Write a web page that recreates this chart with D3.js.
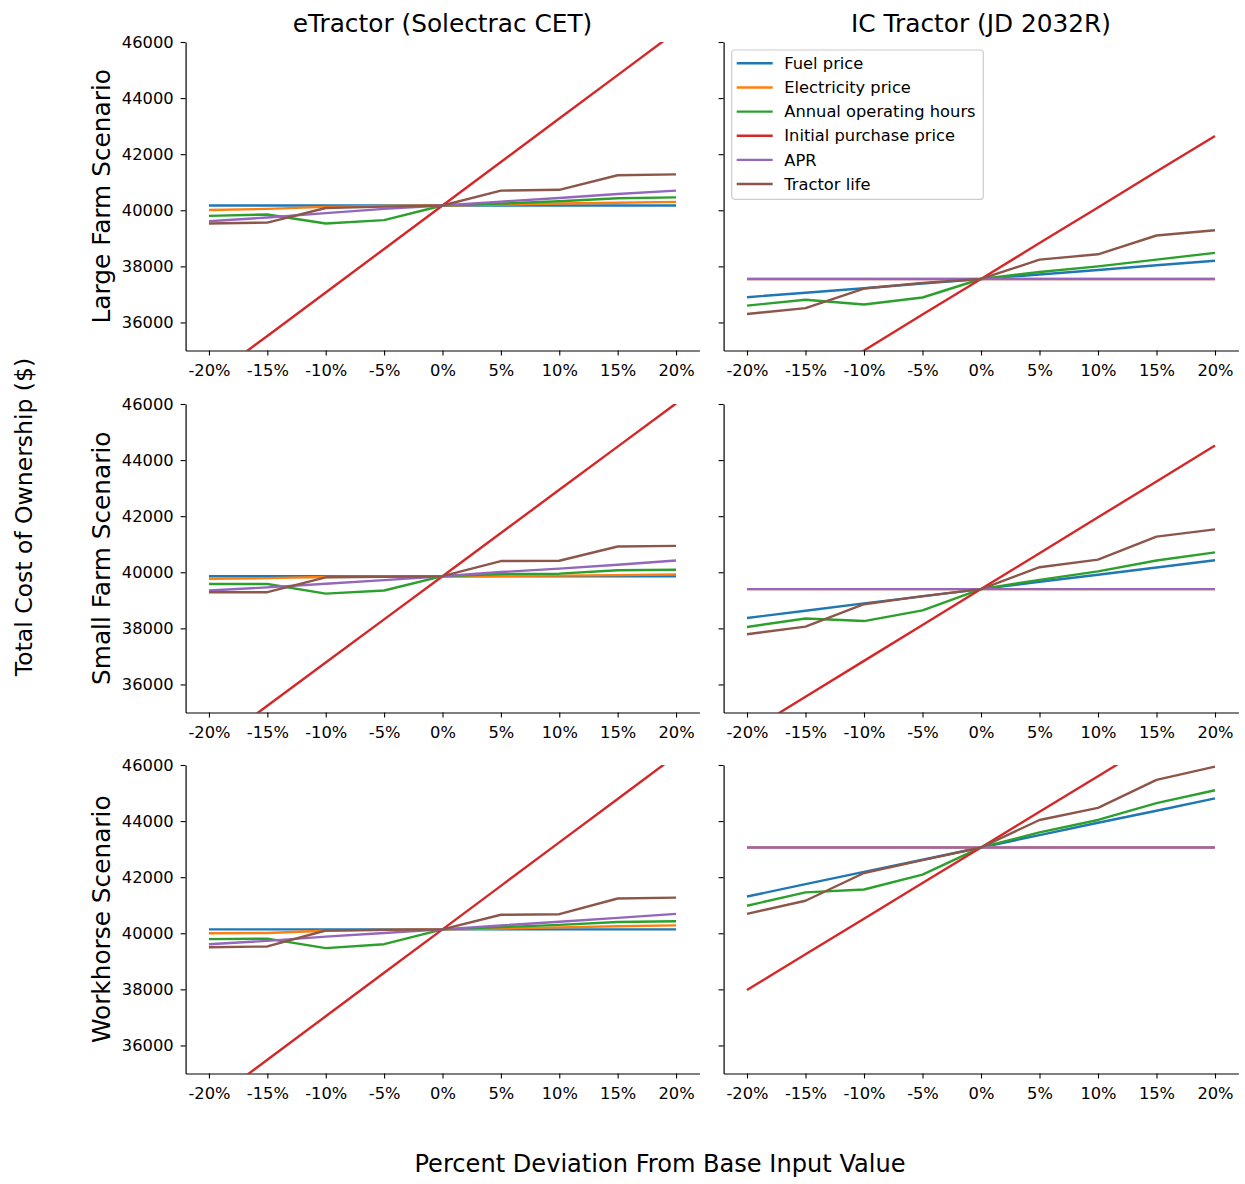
<!DOCTYPE html>
<html>
<head>
<meta charset="utf-8">
<script src="https://cdn.jsdelivr.net/npm/d3@7"></script>
<style>
  body { margin: 0; background: #fff; }
  svg { font-family: "DejaVu Sans", sans-serif; }
</style>
</head>
<body>
<svg id="chart" width="1245" height="1184"></svg>
<script>
const pcts = [-20, -15, -10, -5, 0, 5, 10, 15, 20]
const pct_labels = ['-20%', '-15%', '-10%', '-5%', '0%', '5%', '10%', '15%', '20%']
const y_ticks = [36000, 38000, 40000, 42000, 44000, 46000]
const series_names = ['Fuel price', 'Electricity price', 'Annual operating hours', 'Initial purchase price', 'APR', 'Tractor life']
const series_colors = ['#1f77b4', '#ff7f0e', '#2ca02c', '#d62728', '#9467bd', '#8c564b']
const col_titles = ['eTractor (Solectrac CET)', 'IC Tractor (JD 2032R)']
const row_titles = ['Large Farm Scenario', 'Small Farm Scenario', 'Workhorse Scenario']

// one row per series, same order as series_names
const large_etractor = [
  [40170, 40170, 40170, 40170, 40170, 40170, 40170, 40170, 40170],
  [40010, 40050, 40120, 40150, 40170, 40200, 40240, 40270, 40300],
  [39800, 39850, 39530, 39650, 40170, 40240, 40320, 40430, 40460],
  [33970, 35520, 37070, 38620, 40170, 41720, 43270, 44820, 46370],
  [39610, 39740, 39900, 40050, 40170, 40310, 40440, 40580, 40700],
  [39530, 39560, 40080, 40130, 40170, 40700, 40730, 41250, 41280],
]
const large_ic = [
  [36900, 37060, 37220, 37390, 37550, 37710, 37870, 38040, 38200],
  [37550, 37550, 37550, 37550, 37550, 37550, 37550, 37550, 37550],
  [36600, 36810, 36640, 36890, 37550, 37800, 38000, 38240, 38480],
  [32450, 33730, 35000, 36280, 37550, 38830, 40100, 41380, 42650],
  [37550, 37550, 37550, 37550, 37550, 37550, 37550, 37550, 37550],
  [36300, 36510, 37210, 37410, 37550, 38240, 38430, 39100, 39290],
]
const small_etractor = [
  [39860, 39860, 39860, 39860, 39860, 39860, 39860, 39860, 39860],
  [39770, 39790, 39830, 39850, 39860, 39870, 39880, 39900, 39920],
  [39580, 39580, 39240, 39350, 39860, 39940, 39950, 40070, 40090],
  [33700, 35240, 36780, 38320, 39860, 41400, 42940, 44480, 46020],
  [39350, 39460, 39590, 39720, 39860, 40010, 40130, 40270, 40420],
  [39290, 39290, 39820, 39840, 39860, 40400, 40410, 40920, 40940],
]
const small_ic = [
  [38370, 38630, 38890, 39140, 39400, 39660, 39910, 40170, 40430],
  [39400, 39400, 39400, 39400, 39400, 39400, 39400, 39400, 39400],
  [38050, 38350, 38260, 38640, 39400, 39730, 40030, 40420, 40710],
  [34280, 35560, 36840, 38120, 39400, 40680, 41960, 43240, 44520],
  [39400, 39400, 39400, 39400, 39400, 39400, 39400, 39400, 39400],
  [37790, 38060, 38860, 39150, 39400, 40180, 40450, 41270, 41530],
]
const workhorse_etractor = [
  [40140, 40140, 40140, 40140, 40140, 40140, 40140, 40140, 40140],
  [40000, 40010, 40090, 40120, 40140, 40170, 40210, 40250, 40280],
  [39790, 39810, 39470, 39610, 40140, 40220, 40300, 40400, 40430],
  [33940, 35490, 37040, 38590, 40140, 41690, 43240, 44790, 46340],
  [39610, 39730, 39880, 40010, 40140, 40280, 40410, 40550, 40690],
  [39500, 39530, 40100, 40120, 40140, 40660, 40680, 41240, 41270],
]
const workhorse_ic = [
  [41310, 41750, 42190, 42620, 43060, 43500, 43940, 44370, 44810],
  [43060, 43060, 43060, 43060, 43060, 43060, 43060, 43060, 43060],
  [40980, 41460, 41560, 42090, 43060, 43600, 44040, 44640, 45100],
  [37980, 39250, 40520, 41790, 43060, 44330, 45600, 46870, 48140],
  [43060, 43060, 43060, 43060, 43060, 43060, 43060, 43060, 43060],
  [40690, 41160, 42150, 42610, 43060, 44040, 44470, 45470, 45940],
]

const panels = [
  [large_etractor, large_ic],
  [small_etractor, small_ic],
  [workhorse_etractor, workhorse_ic],
]

const svg = d3.select('#chart')
const col_x = [[185.6, 699.4], [723.6, 1238.4]]
const row_y = [42, 404, 765]
const panel_h = 308.5

panels.forEach((row, ri) => {
  row.forEach((data, ci) => {
    const x = d3.scaleLinear().domain([-22, 22]).range(col_x[ci])
    const y = d3.scaleLinear().domain([35000, 46000]).range([row_y[ri] + panel_h, row_y[ri]])
    const id = 'clip' + ri + ci

    svg.append('clipPath').attr('id', id)
      .append('rect')
      .attr('x', col_x[ci][0]).attr('y', row_y[ri])
      .attr('width', col_x[ci][1] - col_x[ci][0]).attr('height', panel_h)

    const line = d3.line().x((d, i) => x(pcts[i])).y(d => y(d))
    svg.append('g').attr('clip-path', `url(#${id})`)
      .selectAll('path')
      .data(data)
      .join('path')
      .attr('d', line)
      .attr('fill', 'none')
      .attr('stroke', (_, i) => series_colors[i])
      .attr('stroke-width', 2.4)
      .attr('stroke-linejoin', 'round')

    const xa = svg.append('g')
      .attr('transform', `translate(0,${row_y[ri] + panel_h})`)
      .call(d3.axisBottom(x).tickValues(pcts).tickFormat((d, i) => pct_labels[i])
        .tickSize(5).tickSizeOuter(0).tickPadding(9))
    const ya = svg.append('g')
      .attr('transform', `translate(${col_x[ci][0]},0)`)
      .call(d3.axisLeft(y).tickValues(y_ticks).tickFormat(ci == 0 ? d3.format('d') : '')
        .tickSize(5).tickSizeOuter(0).tickPadding(7))
    for (const a of [xa, ya]) {
      a.selectAll('text').attr('font-size', 16.3).attr('fill', '#000').attr('font-family', 'DejaVu Sans')
      a.select('.domain').attr('stroke', '#000').attr('stroke-width', 1.2)
      a.selectAll('.tick line').attr('stroke', '#000').attr('stroke-width', 1.1)
    }
  })
})

// column titles
svg.selectAll('.coltitle')
  .data(col_titles)
  .join('text')
  .attr('x', (d, i) => (col_x[i][0] + col_x[i][1]) / 2)
  .attr('y', 32)
  .attr('text-anchor', 'middle')
  .attr('font-size', 24.8)
  .text(d => d)

// row titles
svg.selectAll('.rowtitle')
  .data(row_titles)
  .join('text')
  .attr('transform', (d, i) => `translate(110,${row_y[i] + panel_h / 2}) rotate(-90)`)
  .attr('text-anchor', 'middle')
  .attr('font-size', 24.8)
  .text(d => d)

svg.append('text')
  .attr('transform', 'translate(32,517) rotate(-90)')
  .attr('text-anchor', 'middle')
  .attr('font-size', 23.5)
  .text('Total Cost of Ownership ($)')

svg.append('text')
  .attr('x', 660).attr('y', 1172)
  .attr('text-anchor', 'middle')
  .attr('font-size', 24.1)
  .text('Percent Deviation From Base Input Value')

// legend in top right panel
const lg = svg.append('g').attr('transform', 'translate(731.7,50)')
lg.append('rect')
  .attr('width', 251.6).attr('height', 149.3).attr('rx', 3)
  .attr('fill', '#fff').attr('fill-opacity', 0.8)
  .attr('stroke', '#cccccc').attr('stroke-width', 1.2)
const items = lg.selectAll('g.item')
  .data(series_names)
  .join('g')
  .attr('transform', (d, i) => `translate(0,${13.3 + i * 24.15})`)
items.append('line')
  .attr('x1', 5).attr('x2', 41)
  .attr('stroke', (d, i) => series_colors[i])
  .attr('stroke-width', 2.4)
items.append('text')
  .attr('x', 52.6).attr('dy', '0.35em')
  .attr('font-size', 16.3)
  .text(d => d)
</script>
</body>
</html>
